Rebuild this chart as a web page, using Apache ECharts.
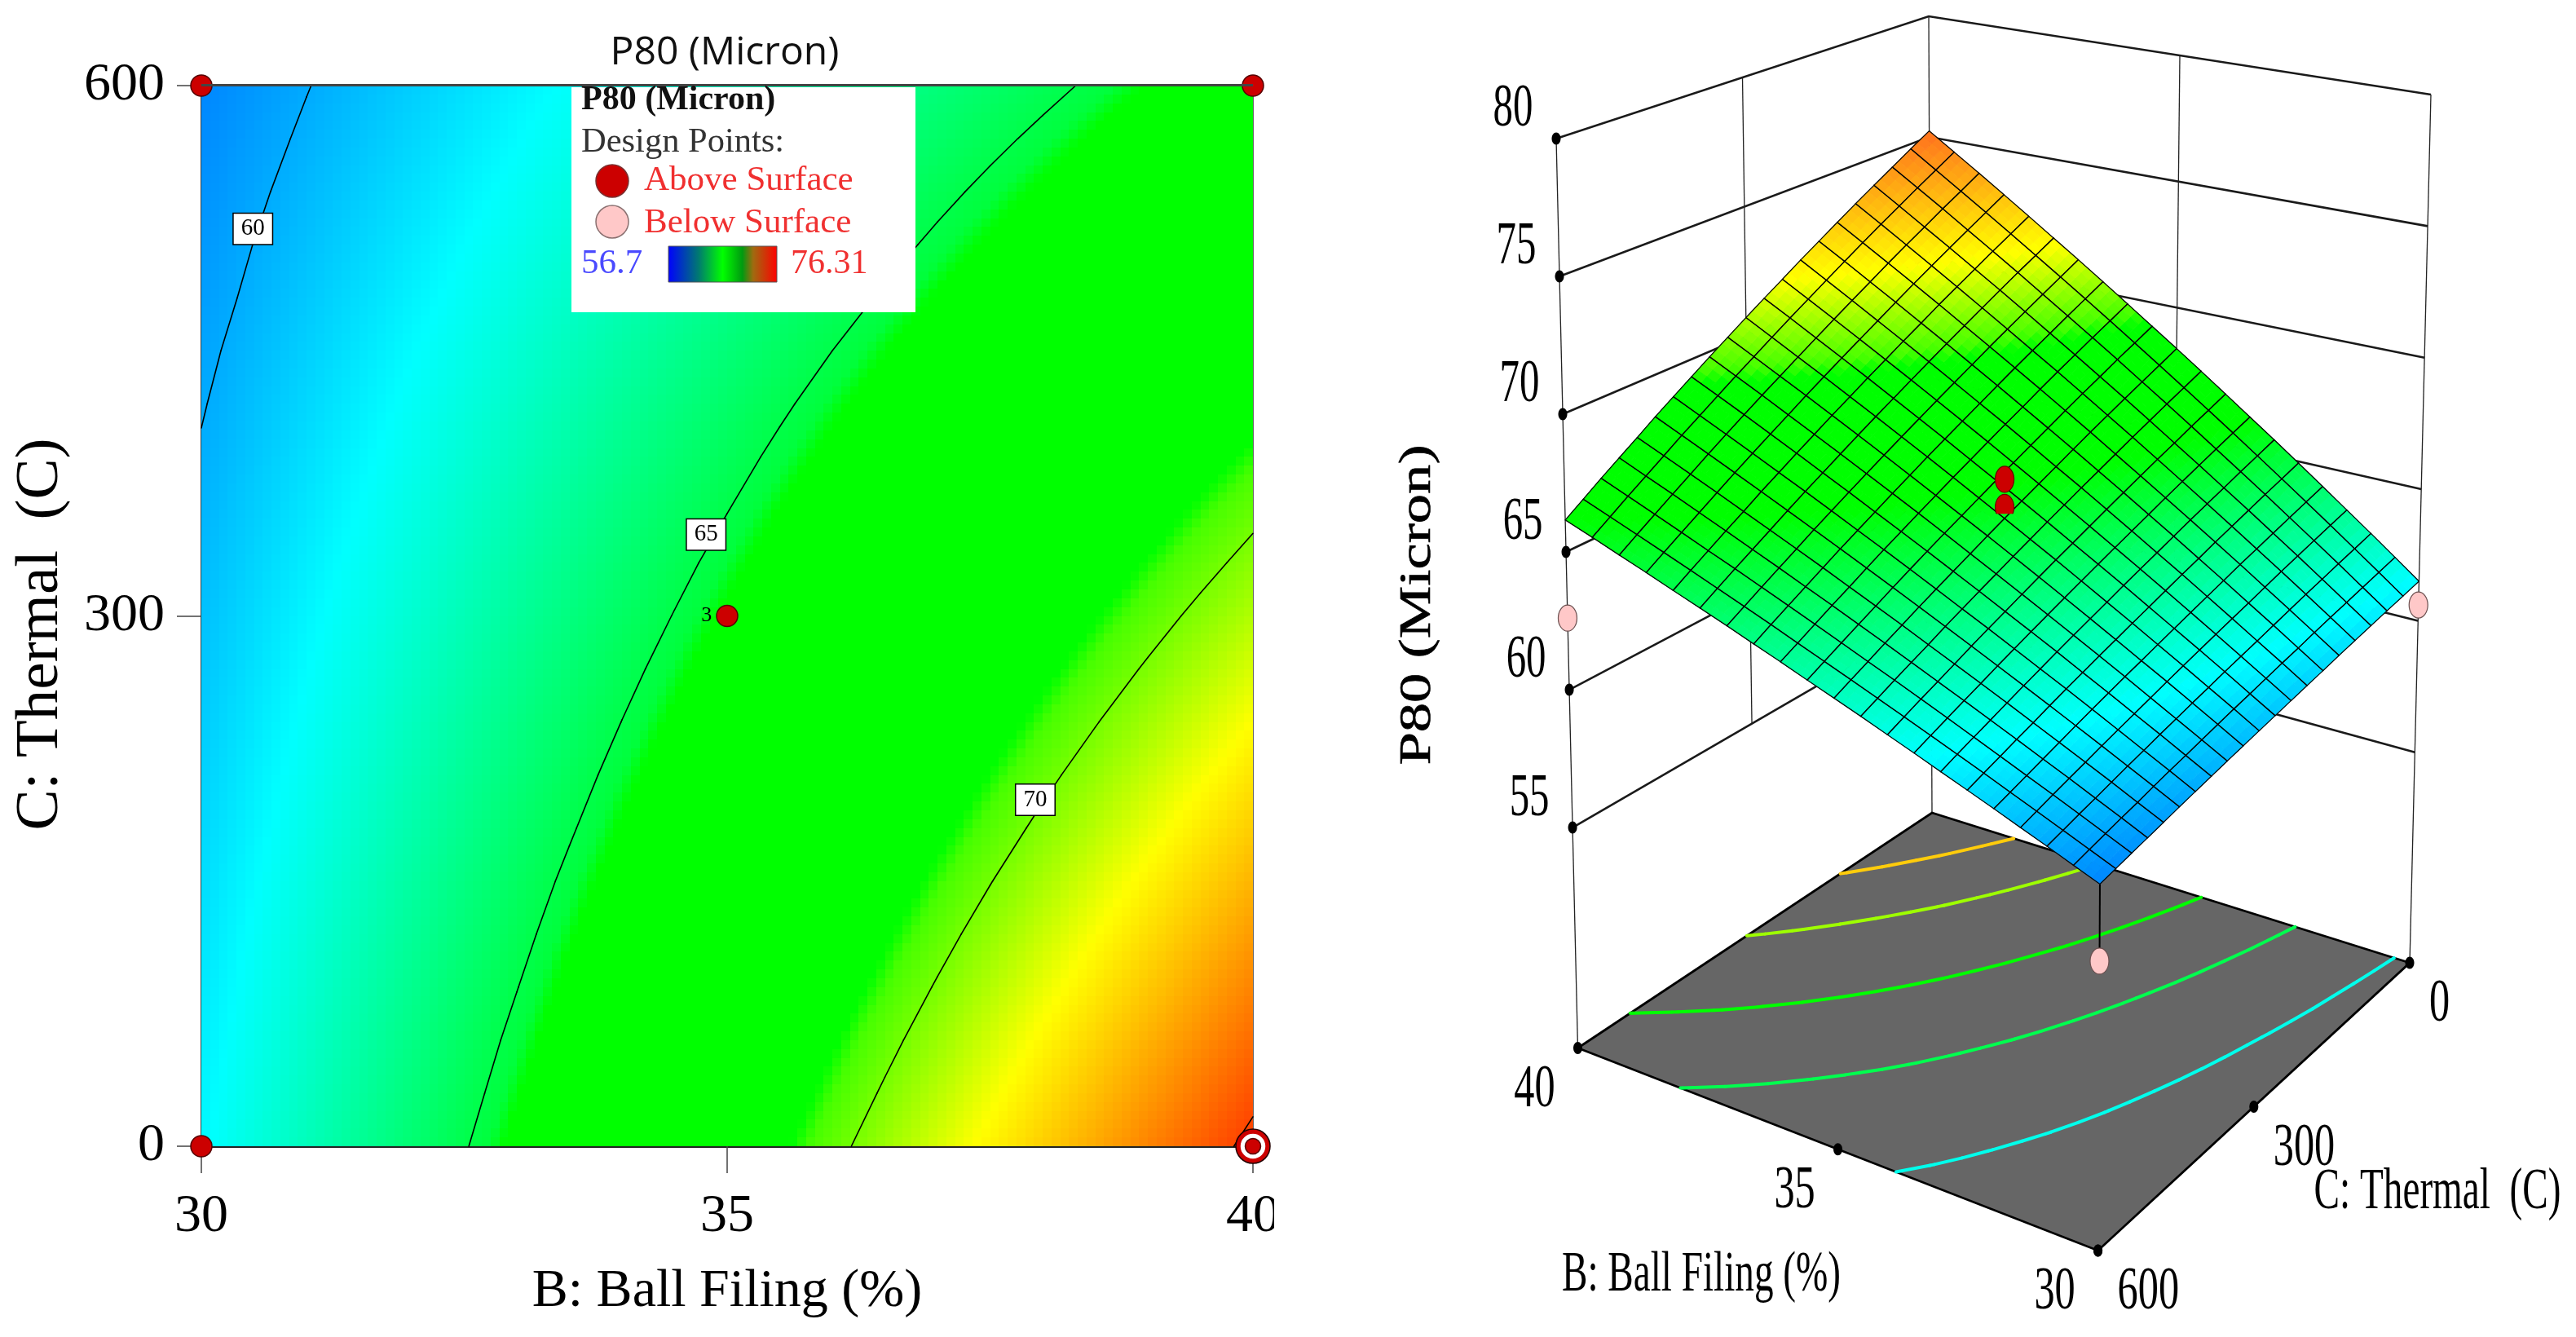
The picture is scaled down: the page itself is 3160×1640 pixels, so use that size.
<!DOCTYPE html>
<html><head><meta charset="utf-8">
<style>html,body{margin:0;padding:0;background:#fff}#c{width:3160px;height:1640px}</style>
<script src="https://cdn.jsdelivr.net/npm/echarts@6/dist/echarts.min.js"></script>
</head><body><div id="c"></div>
<script>
// ---- values ----
const ballFiling=[30,30.5,31,31.5,32,32.5,33,33.5,34,34.5,35,35.5,36,36.5,37,37.5,38,38.5,39,39.5,40];
const thermal=[0,30,60,90,120,150,180,210,240,270,300,330,360,390,420,450,480,510,540,570,600];
const p80Rows=[
[61.50,62.19,62.88,63.56,64.25,64.94,65.63,66.31,67.00,67.69,68.38,69.06,69.75,70.44,71.13,71.81,72.50,73.19,73.88,74.56,75.25],
[61.39,62.06,62.73,63.40,64.07,64.74,65.41,66.08,66.75,67.42,68.09,68.76,69.43,70.10,70.77,71.44,72.11,72.78,73.45,74.12,74.80],
[61.28,61.93,62.59,63.24,63.89,64.55,65.20,65.85,66.51,67.16,67.81,68.47,69.12,69.77,70.42,71.08,71.73,72.38,73.04,73.69,74.34],
[61.17,61.80,62.44,63.08,63.71,64.35,64.98,65.62,66.25,66.89,67.53,68.16,68.80,69.43,70.07,70.71,71.34,71.98,72.61,73.25,73.89],
[61.06,61.68,62.30,62.92,63.53,64.15,64.77,65.39,66.01,66.63,67.25,67.87,68.49,69.10,69.72,70.34,70.96,71.58,72.20,72.82,73.44],
[60.95,61.55,62.15,62.75,63.36,63.96,64.56,65.16,65.76,66.36,66.97,67.57,68.17,68.77,69.37,69.97,70.58,71.18,71.78,72.38,72.98],
[60.83,61.41,62.00,62.58,63.17,63.75,64.34,64.92,65.51,66.09,66.68,67.26,67.84,68.43,69.01,69.60,70.18,70.77,71.35,71.94,72.52],
[60.72,61.29,61.85,62.42,62.99,63.56,64.12,64.69,65.26,65.83,66.39,66.96,67.53,68.09,68.66,69.23,69.80,70.36,70.93,71.50,72.07],
[60.61,61.16,61.71,62.26,62.81,63.36,63.91,64.46,65.01,65.56,66.11,66.66,67.21,67.76,68.31,68.86,69.41,69.96,70.51,71.06,71.61],
[60.50,61.03,61.57,62.10,62.63,63.16,63.70,64.23,64.76,65.30,65.83,66.36,66.89,67.43,67.96,68.49,69.03,69.56,70.09,70.63,71.16],
[60.39,60.91,61.42,61.94,62.45,62.97,63.48,64.00,64.52,65.03,65.55,66.06,66.58,67.10,67.61,68.13,68.64,69.16,69.67,70.19,70.71],
[60.28,60.78,61.28,61.78,62.27,62.77,63.27,63.77,64.27,64.77,65.27,65.76,66.26,66.76,67.26,67.76,68.26,68.76,69.25,69.75,70.25],
[60.17,60.65,61.13,61.61,62.10,62.58,63.06,63.54,64.02,64.50,64.98,65.47,65.95,66.43,66.91,67.39,67.87,68.35,68.84,69.32,69.80],
[60.06,60.52,60.99,61.45,61.92,62.38,62.85,63.31,63.77,64.24,64.70,65.17,65.63,66.09,66.56,67.02,67.49,67.95,68.42,68.88,69.34],
[59.95,60.40,60.84,61.29,61.74,62.19,62.63,63.08,63.53,63.97,64.42,64.87,65.32,65.76,66.21,66.66,67.10,67.55,68.00,68.44,68.89],
[59.84,60.27,60.70,61.13,61.56,61.99,62.42,62.85,63.28,63.71,64.14,64.57,65.00,65.43,65.86,66.29,66.72,67.15,67.58,68.01,68.44],
[59.72,60.13,60.55,60.96,61.37,61.78,62.20,62.61,63.02,63.43,63.85,64.26,64.67,65.09,65.50,65.91,66.32,66.74,67.15,67.56,67.97],
[59.61,60.01,60.40,60.80,61.19,61.59,61.98,62.38,62.77,63.17,63.57,63.96,64.36,64.75,65.15,65.54,65.94,66.33,66.73,67.12,67.52],
[59.50,59.88,60.26,60.64,61.01,61.39,61.77,62.15,62.53,62.91,63.28,63.66,64.04,64.42,64.80,65.18,65.55,65.93,66.31,66.69,67.07],
[59.39,59.75,60.11,60.47,60.83,61.20,61.56,61.92,62.28,62.64,63.00,63.36,63.72,64.09,64.45,64.81,65.17,65.53,65.89,66.25,66.61],
[59.28,59.62,59.97,60.31,60.66,61.00,61.34,61.69,62.03,62.38,62.72,63.06,63.41,63.75,64.10,64.44,64.78,65.13,65.47,65.82,66.16]
];
const contourLevels=[60,65,70,75];
const floorLevels=[61.95,64.8,67.5,70.5,72.9];
const contourLabels=[[30.49,519,'60'],[34.8,346,'65'],[37.93,196,'70']];
const designPoints2D=[[30,600],[40,600],[30,0],[35,300]];
const replicatePoint2D=[[40,0]];
const redPoints3D=[[35,300,65.96],[35,300,67.0]];
const pinkPoints3D=[[40,600,62.6],[30,0,60.6],[30,600,56.7]];
const zTicks=[55,60,65,70,75,80];
const bTicks3D=[40,35,30];
const cTicks3D=[0,300,600];
const bAxisName='B: Ball Filing (%)';
const cAxisName='C: Thermal  (C)';
const zAxisName='P80 (Micron)';
const colorStops2D=[[56.7,[0,0,255]],[61.6,[0,255,255]],[65.25,[0,255,60]],[65.45,[0,255,0]],[69.2,[0,255,0]],[69.45,[70,255,0]],[71.6,[255,255,0]],[76.31,[255,0,0]]];
const colorStops3D=[[56.7,[0,0,255]],[61.6,[0,255,255]],[66.2,[0,255,0]],[69.2,[0,255,0]],[69.5,[70,255,0]],[71.6,[255,255,0]],[76.31,[255,70,40]]];

// ---- helpers ----
const SERIF='"Liberation Serif"';
function zColor(z,s){
  if(z<=s[0][0])return 'rgb('+s[0][1]+')';
  for(let k=1;k<s.length;k++){ if(z<=s[k][0]){
    const t=(z-s[k-1][0])/(s[k][0]-s[k-1][0]);
    const c=s[k-1][1].map((a,n)=>Math.round(a+(s[k][1][n]-a)*t));
    return 'rgb('+c+')';
  }}
  return 'rgb('+s[s.length-1][1]+')';
}
function cellZ(i,j,tc,tb){
  const r=p80Rows;
  return r[i][j]*(1-tc)*(1-tb)+r[i][j+1]*(1-tc)*tb+r[i+1][j]*tc*(1-tb)+r[i+1][j+1]*tc*tb;
}
function crossings(i,j,L){
  const b0=ballFiling[j],b1=ballFiling[j+1],c0=thermal[i],c1=thermal[i+1];
  const q=[[b0,c0,p80Rows[i][j]],[b1,c0,p80Rows[i][j+1]],[b1,c1,p80Rows[i+1][j+1]],[b0,c1,p80Rows[i+1][j]]];
  const out=[];
  for(let k=0;k<4;k++){const a=q[k],e=q[(k+1)%4];
    if((a[2]>=L)!==(e[2]>=L)){const t=(L-a[2])/(e[2]-a[2]);out.push([a[0]+(e[0]-a[0])*t,a[1]+(e[1]-a[1])*t]);}
  }
  return out.length>=2?out.slice(0,2):null;
}
const cellData=[];
for(let i=0;i<thermal.length-1;i++)for(let j=0;j<ballFiling.length-1;j++)cellData.push([ballFiling[j],thermal[i],p80Rows[i][j],i,j]);

// box corners seen in the picture: floor (0) and z = 80 (1)
const box={R0:[2956,1181],K0:[2370,997],L0:[1935.5,1285.5],F0:[2573.6,1534],R1:[2982,116],K1:[2366,20],L1:[1909,170],F1:[2580,326]};
const floorZ=47;
function view(B,C,z){
  const u=(B-30)/10,v=C/600,w=(z-floorZ)/(80-floorZ);
  const mix=(R,K,L,F,n)=>(1-u)*(1-v)*R[n]+u*(1-v)*K[n]+u*v*L[n]+(1-u)*v*F[n];
  return [0,1].map(n=>mix(box.R0,box.K0,box.L0,box.F0,n)*(1-w)+mix(box.R1,box.K1,box.L1,box.F1,n)*w);
}
function P(api,B,C,z){return api.coord(view(B,C,z));}
function surfPt(api,i,j,tc,tb){
  return P(api,ballFiling[j]+(ballFiling[j+1]-ballFiling[j])*tb,thermal[i]+(thermal[i+1]-thermal[i])*tc,cellZ(i,j,tc,tb));
}
function stretched(x,y,text,size,sx,align){
  return {type:'text',x:x,y:y,scaleX:sx,style:{text:text,font:size+'px '+SERIF,fill:'#000',align:align||'center',verticalAlign:'middle',textAlign:align||'center',textVerticalAlign:'middle'}};
}

const SUB2D=6,SUB3D=3;
const series=[];
// ---- left panel ----
series.push({type:'custom',name:'field',xAxisIndex:0,yAxisIndex:0,silent:true,animation:false,progressive:0,clip:false,z:2,data:cellData,
  renderItem(params,api){
    const i=api.value(3),j=api.value(4),kids=[];
    const pa=api.coord([ballFiling[j],thermal[i]]),pb=api.coord([ballFiling[j+1],thermal[i+1]]);
    for(let a=0;a<SUB2D;a++)for(let b=0;b<SUB2D;b++){
      const xl=Math.round(pa[0]+(pb[0]-pa[0])*b/SUB2D),xr=Math.round(pa[0]+(pb[0]-pa[0])*(b+1)/SUB2D);
      const yt=Math.round(pb[1]+(pa[1]-pb[1])*(SUB2D-a-1)/SUB2D),yb=Math.round(pb[1]+(pa[1]-pb[1])*(SUB2D-a)/SUB2D);
      kids.push({type:'rect',shape:{x:xl,y:yt,width:xr-xl,height:yb-yt},style:{fill:zColor(cellZ(i,j,(a+.5)/SUB2D,(b+.5)/SUB2D),colorStops2D)}});
    }
    return {type:'group',children:kids};
  }});
series.push({type:'custom',name:'contours',xAxisIndex:0,yAxisIndex:0,silent:true,animation:false,progressive:0,clip:false,z:3,data:cellData,
  renderItem(params,api){
    const i=api.value(3),j=api.value(4),kids=[];
    contourLevels.forEach(L=>{const s=crossings(i,j,L);if(s){const a=api.coord(s[0]),b=api.coord(s[1]);
      kids.push({type:'line',shape:{x1:a[0],y1:a[1],x2:b[0],y2:b[1]},style:{stroke:'#000',lineWidth:1.6,lineCap:'round'}});}});
    return {type:'group',children:kids};
  }});
series.push({type:'scatter',name:'contour labels',xAxisIndex:0,yAxisIndex:0,silent:true,animation:false,clip:false,z:4,symbolSize:0,itemStyle:{opacity:1},
  data:contourLabels.map(d=>({value:[d[0],d[1]],label:{formatter:d[2]}})),
  label:{show:true,position:'inside',color:'#000',fontFamily:SERIF,fontSize:29,backgroundColor:'#fff',borderColor:'#000',borderWidth:1.5,padding:[4,9,4,9]}});
series.push({type:'scatter',name:'design points',xAxisIndex:0,yAxisIndex:0,silent:true,animation:false,clip:false,z:5,symbol:'circle',symbolSize:26,
  itemStyle:{color:'#cc0000',borderColor:'#500',borderWidth:1.5,opacity:1},
  data:designPoints2D.map(d=>(d[0]===35?{value:d,label:{show:true,position:'left',distance:5,formatter:'3',fontFamily:SERIF,fontSize:26,color:'#000'}}:{value:d}))});
[[42,'#cc0000','#200'],[29,'#fff','#fff'],[19,'#cc0000','#500']].forEach((r,n)=>{
  series.push({type:'scatter',name:'replicate '+n,xAxisIndex:0,yAxisIndex:0,silent:true,animation:false,clip:false,z:6+n,symbol:'circle',symbolSize:r[0],
    itemStyle:{color:r[1],borderColor:r[2],borderWidth:1.5,opacity:1},data:replicatePoint2D});
});
// ---- right panel ----
const R={xAxisIndex:1,yAxisIndex:1,silent:true,animation:false,progressive:0,clip:false,type:'custom'};
series.push(Object.assign({},R,{name:'walls',z:2,data:zTicks.map(z=>[0,0,z]),
  renderItem(params,api){
    const z=api.value(2);
    return {type:'polyline',shape:{points:[P(api,40,600,z),P(api,40,0,z),P(api,30,0,z)]},style:{fill:null,stroke:'#1a1a1a',lineWidth:2.6}};
  }}));
series.push(Object.assign({},R,{name:'verticals',z:2,data:[[40,600,floorZ],[40,0,floorZ],[30,0,floorZ],[40,300,55],[35,0,55]],
  renderItem(params,api){
    const a=P(api,api.value(0),api.value(1),api.value(2)),b=P(api,api.value(0),api.value(1),80);
    return {type:'line',shape:{x1:a[0],y1:a[1],x2:b[0],y2:b[1]},style:{stroke:'#222',lineWidth:1.3}};
  }}));
series.push(Object.assign({},R,{name:'floor',z:3,data:[[0,0,floorZ]],
  renderItem(params,api){
    return {type:'polygon',shape:{points:[P(api,30,0,floorZ),P(api,40,0,floorZ),P(api,40,600,floorZ),P(api,30,600,floorZ)]},style:{fill:'#666666',stroke:'#000',lineWidth:2.8}};
  }}));
series.push(Object.assign({},R,{name:'floor contours',z:4,data:cellData,
  renderItem(params,api){
    const i=api.value(3),j=api.value(4),kids=[];
    floorLevels.forEach(L=>{const s=crossings(i,j,L);if(s){const a=P(api,s[0][0],s[0][1],floorZ),b=P(api,s[1][0],s[1][1],floorZ);
      kids.push({type:'line',shape:{x1:a[0],y1:a[1],x2:b[0],y2:b[1]},style:{stroke:zColor(L,colorStops3D),lineWidth:4,lineCap:'round'}});}});
    return {type:'group',children:kids};
  }}));
series.push(Object.assign({},R,{name:'pink drop',z:5,data:[pinkPoints3D[2]],
  renderItem(params,api){
    const a=P(api,30,600,59.28),b=P(api,api.value(0),api.value(1),api.value(2));
    return {type:'line',shape:{x1:a[0],y1:a[1],x2:b[0],y2:b[1]},style:{stroke:'#000',lineWidth:2}};
  }}));
series.push(Object.assign({},R,{name:'surface',z:6,data:cellData,
  renderItem(params,api){
    const i=api.value(3),j=api.value(4),kids=[];
    for(let a=0;a<SUB3D;a++)for(let b=0;b<SUB3D;b++){
      const t0=a/SUB3D,t1=(a+1)/SUB3D,s0=b/SUB3D,s1=(b+1)/SUB3D,col=zColor(cellZ(i,j,(t0+t1)/2,(s0+s1)/2),colorStops3D);
      kids.push({type:'polygon',shape:{points:[surfPt(api,i,j,t0,s0),surfPt(api,i,j,t0,s1),surfPt(api,i,j,t1,s1),surfPt(api,i,j,t1,s0)]},style:{fill:col,stroke:col,lineWidth:1}});
    }
    return {type:'group',children:kids};
  }}));
series.push(Object.assign({},R,{name:'mesh',z:7,data:cellData,
  renderItem(params,api){
    const i=api.value(3),j=api.value(4);
    return {type:'polygon',shape:{points:[surfPt(api,i,j,0,0),surfPt(api,i,j,0,1),surfPt(api,i,j,1,1),surfPt(api,i,j,1,0)]},style:{fill:null,stroke:'#050505',lineWidth:1.25}};
  }}));
function ballMark(api,color,edge,cut){
  const p=P(api,api.value(0),api.value(1),api.value(2));
  const el={type:'ellipse',shape:{cx:p[0],cy:p[1],rx:11.5,ry:16},style:{fill:color,stroke:edge,lineWidth:1.2}};
  if(cut)el.clipPath={type:'rect',shape:{x:p[0]-20,y:p[1]-30,width:40,height:30+cut}};
  return el;
}
series.push(Object.assign({},R,{name:'above surface',z:8,data:redPoints3D,renderItem(params,api){return ballMark(api,'#cc0000','#660000',params.dataIndex===0?8:0);}}));
series.push(Object.assign({},R,{name:'below surface',z:8,data:pinkPoints3D,renderItem(params,api){return ballMark(api,'#ffc8c8','#6b5050');}}));
series.push(Object.assign({},R,{name:'z ticks',z:9,data:zTicks.map(z=>[40,600,z]),
  renderItem(params,api){
    const z=api.value(2),p=P(api,40,600,z);
    return {type:'group',children:[
      {type:'ellipse',shape:{cx:p[0],cy:p[1],rx:5.5,ry:7.5},style:{fill:'#000'}},
      stretched(p[0]-53,p[1]-35,String(z),74,.66)]};
  }}));
series.push(Object.assign({},R,{name:'b ticks',z:9,data:bTicks3D.map(b=>[b,600,floorZ]),
  renderItem(params,api){
    const p=P(api,api.value(0),600,floorZ);
    return {type:'group',children:[
      {type:'ellipse',shape:{cx:p[0],cy:p[1],rx:5.5,ry:7.5},style:{fill:'#000'}},
      stretched(p[0]-53,p[1]+52,String(api.value(0)),74,.68)]};
  }}));
series.push(Object.assign({},R,{name:'c ticks',z:9,data:cTicks3D.map(c=>[30,c,floorZ]),
  renderItem(params,api){
    const p=P(api,30,api.value(1),floorZ);
    return {type:'group',children:[
      {type:'ellipse',shape:{cx:p[0],cy:p[1],rx:5.5,ry:7.5},style:{fill:'#000'}},
      stretched(p[0]+24,p[1]+52,String(api.value(1)),74,.68,'left')]};
  }}));

const redText='#f03030';
const gZ=100;
const mid={textVerticalAlign:'middle',verticalAlign:'middle'};
const graphic=[
  {type:'rect',z:gZ,shape:{x:1563,y:1440,width:60,height:110},style:{fill:'#fff'}},
  {type:'rect',z:gZ-1,shape:{x:247,y:103,width:1290,height:3},style:{fill:'#444'}},
  {type:'rect',z:gZ,shape:{x:701,y:107,width:422,height:276},style:{fill:'#fff'}},
  {type:'text',z:gZ+1,x:713,y:123,style:Object.assign({text:zAxisName,font:'bold 42px '+SERIF,fill:'#111'},mid)},
  {type:'text',z:gZ+1,x:713,y:175,style:Object.assign({text:'Design Points:',font:'42.5px '+SERIF,fill:'#333'},mid)},
  {type:'circle',z:gZ+1,shape:{cx:751,cy:222,r:20},style:{fill:'#cc0000',stroke:'#7a3030',lineWidth:1.5}},
  {type:'text',z:gZ+1,x:790,y:222,style:Object.assign({text:'Above Surface',font:'43px '+SERIF,fill:redText},mid)},
  {type:'circle',z:gZ+1,shape:{cx:751,cy:272,r:20},style:{fill:'#ffc8c8',stroke:'#8a7070',lineWidth:1.5}},
  {type:'text',z:gZ+1,x:790,y:274,style:Object.assign({text:'Below Surface',font:'43px '+SERIF,fill:redText},mid)},
  {type:'text',z:gZ+1,x:713,y:324,style:Object.assign({text:'56.7',font:'43px '+SERIF,fill:'#4a4aff'},mid)},
  {type:'rect',z:gZ+1,shape:{x:820,y:302,width:133,height:44},style:{stroke:'#555',lineWidth:1,fill:new echarts.graphic.LinearGradient(0,0,1,0,[
     {offset:0,color:'#0000ff'},{offset:.28,color:'#007a70'},{offset:.5,color:'#00ff00'},{offset:.68,color:'#009a10'},{offset:.78,color:'#a06a10'},{offset:1,color:'#ff0000'}])}},
  {type:'text',z:gZ+1,x:970,y:324,style:Object.assign({text:'76.31',font:'42px '+SERIF,fill:redText},mid)},
  // axis titles placed off-centre in the reference
  {type:'text',z:gZ,x:50,y:778,rotation:Math.PI/2,style:{text:cAxisName,font:'75px '+SERIF,fill:'#000',textAlign:'center',align:'center',textVerticalAlign:'middle',verticalAlign:'middle'}},
  {type:'text',z:gZ,x:1740,y:742,rotation:Math.PI/2,scaleX:1.32,style:{text:zAxisName,font:'55px '+SERIF,fill:'#000',textAlign:'center',align:'center',textVerticalAlign:'middle',verticalAlign:'middle',stroke:'#000',lineWidth:.6}},
  {type:'text',z:gZ,x:2990,y:1463,scaleX:.665,style:{text:cAxisName,font:'71px '+SERIF,fill:'#000',textAlign:'center',align:'center',textVerticalAlign:'middle',verticalAlign:'middle'}},
  {type:'text',z:gZ,x:2087,y:1565,scaleX:.674,style:{text:bAxisName,font:'70px '+SERIF,fill:'#000',textAlign:'center',align:'center',textVerticalAlign:'middle',verticalAlign:'middle'}}
];

const chart=echarts.init(document.getElementById('c'),null,{renderer:'canvas'});
chart.setOption({
  backgroundColor:'#fff',animation:false,
  title:{text:zAxisName,left:884,top:36,textAlign:'center',textStyle:{fontFamily:'"Open Sans"',fontWeight:'normal',fontSize:48,color:'#111'}},
  grid:[{left:247,top:105,width:1290,height:1301,show:true,borderColor:'#333',borderWidth:1.5,backgroundColor:'transparent'},
        {left:1660,top:0,width:1500,height:1640,show:false}],
  xAxis:[{type:'value',gridIndex:0,min:30,max:40,interval:5,name:bAxisName,nameLocation:'middle',nameGap:146,
          nameTextStyle:{fontFamily:SERIF,fontSize:66,color:'#000'},
          axisLine:{show:true,lineStyle:{color:'#222',width:3}},axisTick:{show:true,length:33,lineStyle:{color:'#444',width:1.5}},
          axisLabel:{fontFamily:SERIF,fontSize:66,color:'#000',margin:54},splitLine:{show:false}},
         {type:'value',gridIndex:1,min:1660,max:3160,show:false,splitLine:{show:false}}],
  yAxis:[{type:'value',gridIndex:0,min:0,max:600,interval:300,
          axisLine:{show:true,lineStyle:{color:'#333',width:1.5}},axisTick:{show:true,length:30,lineStyle:{color:'#444',width:1.5}},
          axisLabel:{fontFamily:SERIF,fontSize:66,color:'#000',margin:45,padding:[12,0,0,0]},splitLine:{show:false}},
         {type:'value',gridIndex:1,min:0,max:1640,inverse:true,show:false,splitLine:{show:false}}],
  series:series,
  graphic:graphic
});
</script></body></html>
